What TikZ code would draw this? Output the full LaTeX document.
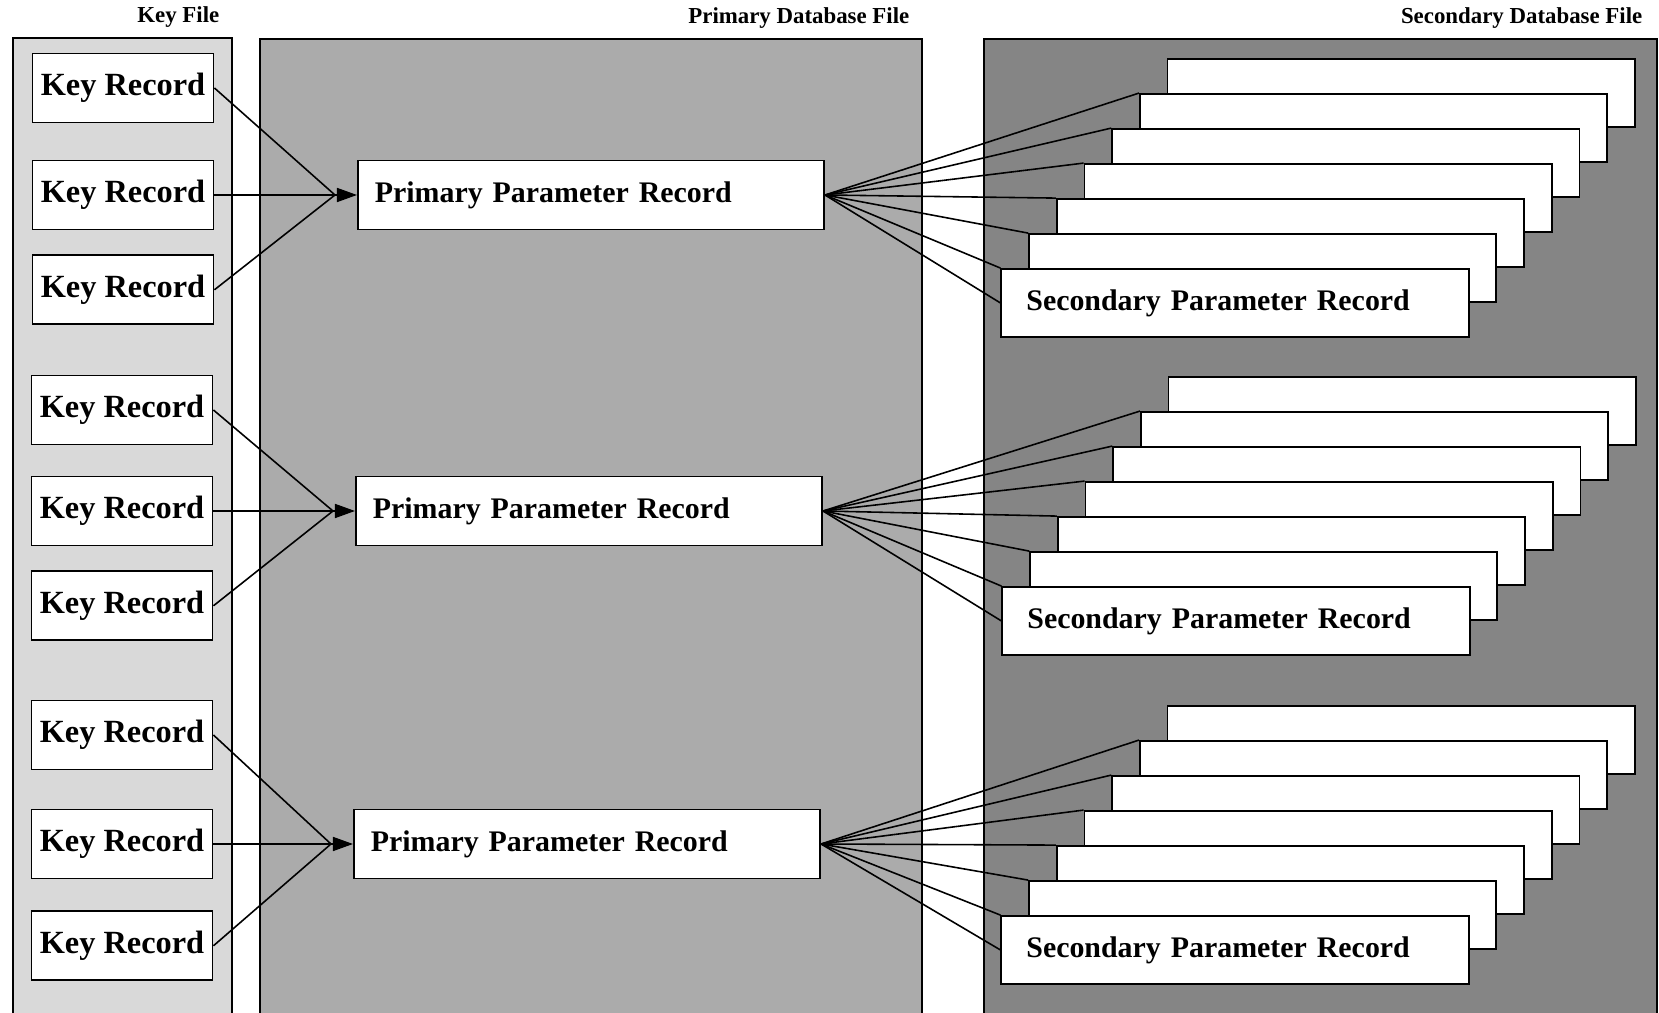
\documentclass[tikz,border=0pt]{standalone}
\usepackage{fontspec}
\setmainfont{Liberation Serif}
\usetikzlibrary{arrows.meta, positioning}

\tikzset{
  panel/.style={line width=0.7pt},
  keyrec/.style={draw, fill=white, line width=0.5pt, minimum width=1.81cm, minimum height=0.69cm, inner xsep=2pt, font=\fontsize{9.2}{10}\selectfont\bfseries},
  primrec/.style={draw, fill=white, line width=0.5pt, text width=4.32cm, align=left, inner xsep=0.17cm, minimum height=0.69cm, font=\fontsize{8.5}{10}\selectfont\bfseries},
  card/.style={draw, fill=white, line width=0.5pt, minimum width=4.67cm, minimum height=0.68cm, inner sep=0pt},
  secrec/.style={card, text width=4.17cm, align=left, inner xsep=0.25cm, font=\fontsize{8.5}{10}\selectfont\bfseries},
  flabel/.style={font=\fontsize{6.5}{8}\selectfont\bfseries, inner sep=0pt},
  link/.style={line width=0.45pt},
  feed/.style={link, -{Triangle[length=0.2cm, width=0.14cm]}}
}

\begin{document}
\begin{tikzpicture}[x=0.01cm, y=-0.01cm]
    \useasboundingbox (0,0) rectangle (1659,1013);

    % the three files
    \fill[black!15] (13,38) rectangle (232,1013);
    \draw[panel] (13,1013) |- (232,38) -- (232,1013);
    \fill[black!33] (260,39) rectangle (922,1013);
    \draw[panel] (260,1013) |- (922,39) -- (922,1013);
    \fill[black!48] (984,39) rectangle (1657,1013);
    \draw[panel] (984,1013) |- (1657,39) -- (1657,1013);

    \coordinate (kf) at (232,38);
    \coordinate (pf) at (922,39);
    \coordinate (sf) at (1657,39);
    \node[flabel, above left=0.1cm and 0.12cm of kf] (kfl) {Key File};
    \node[flabel, above left=0.1cm and 0.12cm of pf] (pfl) {Primary Database File};
    \node[flabel, above left=0.1cm and 0.14cm of sf] (sfl) {Secondary Database File};

    % primary parameter records
    \node[primrec] (p1) at (591,195) {Primary Parameter Record};
    \node[primrec] (p2) at (589,511) {Primary Parameter Record};
    \node[primrec] (p3) at (587,844) {Primary Parameter Record};

    % key records
    \node[keyrec] (k1) at (123,88) {Key Record};
    \node[keyrec] (k2) at (k1 |- p1) {Key Record};
    \node[keyrec] (k3) [below=0.24cm of k2] {Key Record};
    \node[keyrec] (k4) at (122,410) {Key Record};
    \node[keyrec] (k5) at (k4 |- p2) {Key Record};
    \node[keyrec] (k6) [below=0.24cm of k5] {Key Record};
    \node[keyrec] (k7) at (122,735) {Key Record};
    \node[keyrec] (k8) at (k7 |- p3) {Key Record};
    \node[keyrec] (k9) [below=0.31cm of k8] {Key Record};

    \coordinate[left=0.22cm of p1] (c1);
    \coordinate[left=0.22cm of p2] (c2);
    \coordinate[left=0.22cm of p3] (c3);

    \draw[link] (k1.east) -- (c1);
    \draw[link] (k2.east) -- (c1);
    \draw[link] (k3.east) -- (c1);
    \draw[feed] (c1) -- (p1.west);
    \draw[link] (k4.east) -- (c2);
    \draw[link] (k5.east) -- (c2);
    \draw[link] (k6.east) -- (c2);
    \draw[feed] (c2) -- (p2.west);
    \draw[link] (k7.east) -- (c3);
    \draw[link] (k8.east) -- (c3);
    \draw[link] (k9.east) -- (c3);
    \draw[feed] (c3) -- (p3.west);

    % secondary records, back to front
    \node[card] (s1a) at (1401.2,93) {};
    \node[card] (s1b) at (1373.5,128) {};
    \node[card] (s1c) at (1345.8,163) {};
    \node[card] (s1d) at (1318.1,198) {};
    \node[card] (s1e) at (1290.4,233) {};
    \node[card] (s1f) at (1262.7,268) {};
    \node[secrec] (s1) at (1235,303) {Secondary Parameter Record};

    \node[card] (s2a) at (1402.2,411) {};
    \node[card] (s2b) at (1374.5,446) {};
    \node[card] (s2c) at (1346.8,481) {};
    \node[card] (s2d) at (1319.1,516) {};
    \node[card] (s2e) at (1291.4,551) {};
    \node[card] (s2f) at (1263.7,586) {};
    \node[secrec] (s2) at (1236,621) {Secondary Parameter Record};

    \node[card] (s3a) at (1401.2,740) {};
    \node[card] (s3b) at (1373.5,775) {};
    \node[card] (s3c) at (1345.8,810) {};
    \node[card] (s3d) at (1318.1,845) {};
    \node[card] (s3e) at (1290.4,880) {};
    \node[card] (s3f) at (1262.7,915) {};
    \node[secrec] (s3) at (1235,950) {Secondary Parameter Record};

    \draw[link] (p1.east) -- (s1b.north west);
    \draw[link] (p1.east) -- (s1c.north west);
    \draw[link] (p1.east) -- (s1d.north west);
    \draw[link] (p1.east) -- (s1e.north west);
    \draw[link] (p1.east) -- (s1f.north west);
    \draw[link] (p1.east) -- (s1.north west);
    \draw[link] (p1.east) -- (s1.west);

    \draw[link] (p2.east) -- (s2b.north west);
    \draw[link] (p2.east) -- (s2c.north west);
    \draw[link] (p2.east) -- (s2d.north west);
    \draw[link] (p2.east) -- (s2e.north west);
    \draw[link] (p2.east) -- (s2f.north west);
    \draw[link] (p2.east) -- (s2.north west);
    \draw[link] (p2.east) -- (s2.west);

    \draw[link] (p3.east) -- (s3b.north west);
    \draw[link] (p3.east) -- (s3c.north west);
    \draw[link] (p3.east) -- (s3d.north west);
    \draw[link] (p3.east) -- (s3e.north west);
    \draw[link] (p3.east) -- (s3f.north west);
    \draw[link] (p3.east) -- (s3.north west);
    \draw[link] (p3.east) -- (s3.west);
\end{tikzpicture}
\end{document}
